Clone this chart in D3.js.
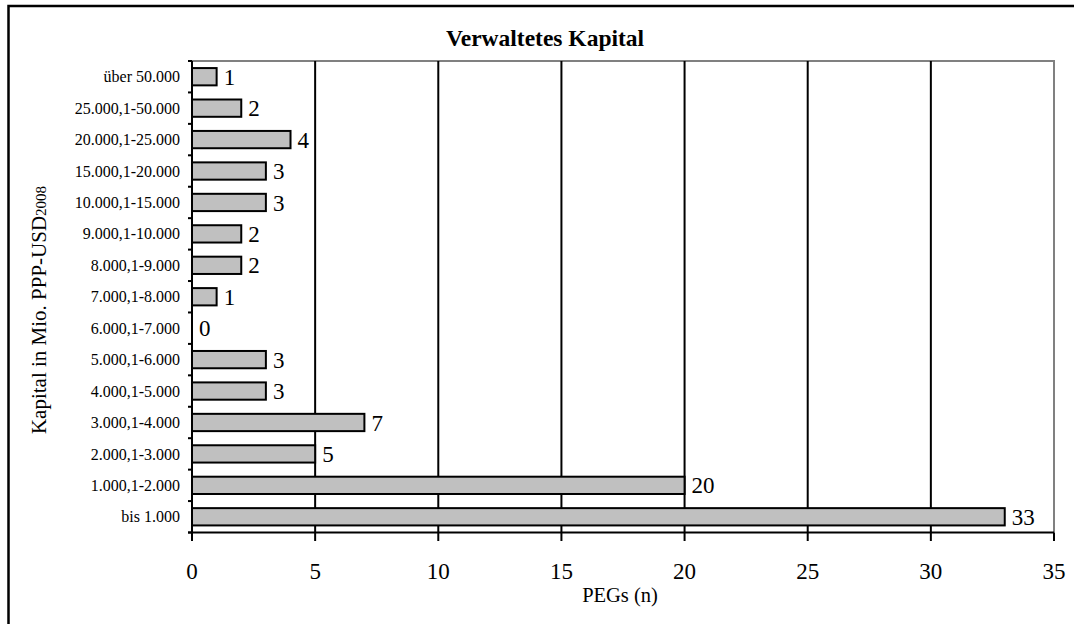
<!DOCTYPE html>
<html>
<head>
<meta charset="utf-8">
<script src="https://cdn.jsdelivr.net/npm/d3@7"></script>
<style>
  html, body { margin: 0; padding: 0; background: #fff; }
  svg { display: block; }
  text { font-family: "Liberation Serif", "Times New Roman", serif; fill: #000; }
</style>
</head>
<body>
<svg id="chart" width="1074" height="624"></svg>
<script>
// ---- data (top to bottom as shown) ----
const categories = [
  "über 50.000", "25.000,1-50.000", "20.000,1-25.000", "15.000,1-20.000",
  "10.000,1-15.000", "9.000,1-10.000", "8.000,1-9.000", "7.000,1-8.000",
  "6.000,1-7.000", "5.000,1-6.000", "4.000,1-5.000", "3.000,1-4.000",
  "2.000,1-3.000", "1.000,1-2.000", "bis 1.000"
];
const values = [1, 2, 4, 3, 3, 2, 2, 1, 0, 3, 3, 7, 5, 20, 33];
const xTicks = [0, 5, 10, 15, 20, 25, 30, 35];
const title = "Verwaltetes Kapital";
const xTitle = "PEGs (n)";
const yTitleMain = "Kapital in Mio. PPP-USD";
const yTitleSub = "2008";

// ---- layout ----
const svg = d3.select("#chart");
const plot = { left: 192, right: 1054, top: 61, bottom: 532.5 };

const x = d3.scaleLinear().domain([0, 35]).range([plot.left, plot.right]);
const y = d3.scaleBand().domain(categories).range([plot.top, plot.bottom])
  .paddingInner(0.45).paddingOuter(0.225);
const boundary = d3.scaleLinear().domain([0, categories.length]).range([plot.top, plot.bottom]);

// outer border (cut off at right/bottom as in reference)
svg.append("rect").attr("x", 8.5).attr("y", 6).attr("width", 1200).attr("height", 800)
  .attr("fill", "none").attr("stroke", "#000").attr("stroke-width", 2.5);

// title
svg.append("text").attr("x", 545).attr("y", 46).attr("text-anchor", "middle")
  .attr("font-size", 23.5).attr("font-weight", "bold").text(title);

// plot border (gray top & right)
svg.append("path")
  .attr("d", `M${plot.left},${plot.top}H${plot.right}V${plot.bottom}`)
  .attr("fill", "none").attr("stroke", "#808080").attr("stroke-width", 2);

// gridlines
svg.append("g").selectAll("line").data(xTicks.filter(t => t > 0 && t < 35)).join("line")
  .attr("x1", d => x(d)).attr("x2", d => x(d))
  .attr("y1", plot.top).attr("y2", plot.bottom)
  .attr("stroke", "#000").attr("stroke-width", 2);

// bars
svg.append("g").selectAll("rect").data(categories).join("rect")
  .attr("x", x(0))
  .attr("y", d => y(d))
  .attr("width", (d, i) => x(values[i]) - x(0))
  .attr("height", y.bandwidth())
  .attr("fill", "#c0c0c0")
  .attr("stroke", (d, i) => values[i] > 0 ? "#000" : "none")
  .attr("stroke-width", 2);

// value labels
svg.append("g").selectAll("text").data(categories).join("text")
  .attr("x", (d, i) => x(values[i]) + 7)
  .attr("y", d => y(d) + y.bandwidth() / 2)
  .attr("dy", "0.35em")
  .attr("font-size", 23)
  .text((d, i) => values[i]);

// y axis line + ticks at band boundaries
svg.append("line").attr("x1", plot.left).attr("x2", plot.left)
  .attr("y1", plot.top).attr("y2", plot.bottom + 8.5)
  .attr("stroke", "#000").attr("stroke-width", 2);
svg.append("g").selectAll("line").data(d3.range(categories.length + 1)).join("line")
  .attr("x1", plot.left - 4).attr("x2", plot.left)
  .attr("y1", d => boundary(d)).attr("y2", d => boundary(d))
  .attr("stroke", "#000").attr("stroke-width", 2);

// category labels
svg.append("g").selectAll("text").data(categories).join("text")
  .attr("x", plot.left - 12)
  .attr("y", d => y(d) + y.bandwidth() / 2)
  .attr("dy", "0.35em")
  .attr("text-anchor", "end")
  .attr("font-size", 16)
  .text(d => d);

// x axis
svg.append("line").attr("x1", plot.left - 4).attr("x2", plot.right)
  .attr("y1", plot.bottom).attr("y2", plot.bottom)
  .attr("stroke", "#000").attr("stroke-width", 2);
svg.append("g").selectAll("line").data(xTicks).join("line")
  .attr("x1", d => x(d)).attr("x2", d => x(d))
  .attr("y1", plot.bottom).attr("y2", plot.bottom + 8.5)
  .attr("stroke", "#000").attr("stroke-width", 2);
svg.append("g").selectAll("text").data(xTicks).join("text")
  .attr("x", d => x(d)).attr("y", 579)
  .attr("text-anchor", "middle").attr("font-size", 23)
  .text(d => d);

// axis titles
svg.append("text").attr("x", 620).attr("y", 602).attr("text-anchor", "middle")
  .attr("font-size", 20.5).text(xTitle);

const yt = svg.append("text")
  .attr("transform", "translate(46,310) rotate(-90)")
  .attr("text-anchor", "middle").attr("font-size", 21);
yt.append("tspan").text(yTitleMain);
yt.append("tspan").attr("font-size", 15).text(yTitleSub);
</script>
</body>
</html>
